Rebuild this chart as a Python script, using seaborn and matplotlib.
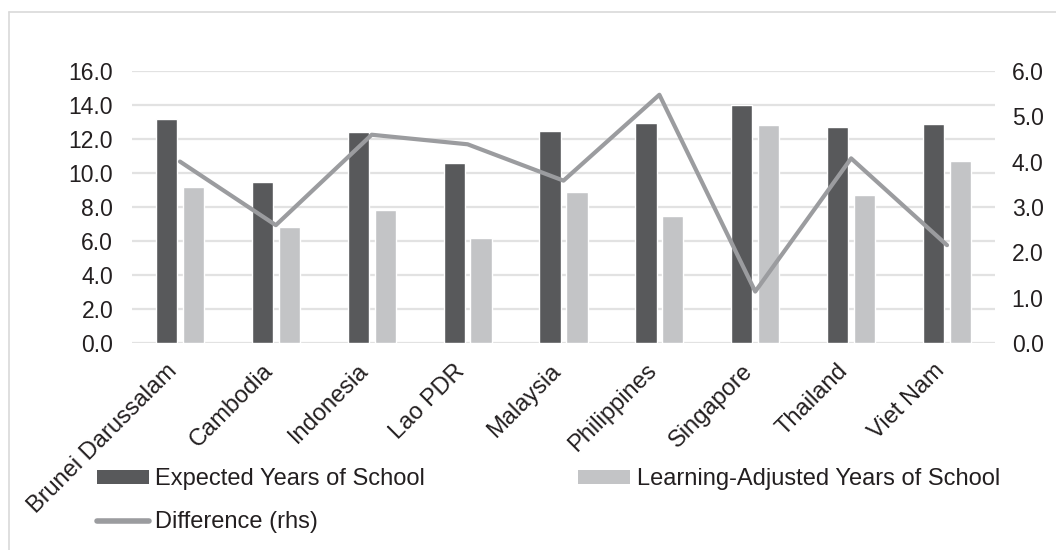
import numpy as np
import pandas as pd
import matplotlib
matplotlib.use("Agg")
import matplotlib.pyplot as plt
import matplotlib.transforms as mtransforms
from matplotlib.lines import Line2D
from matplotlib.patches import Patch
import seaborn as sns

countries = ["Brunei Darussalam", "Cambodia", "Indonesia", "Lao PDR", "Malaysia",
             "Philippines", "Singapore", "Thailand", "Viet Nam"]
expected = [13.16, 9.48, 12.40, 10.58, 12.48, 12.95, 13.97, 12.71, 12.87]
learning_adj = [9.19, 6.83, 7.84, 6.20, 8.88, 7.47, 12.79, 8.72, 10.68]
difference = [4.00, 2.60, 4.59, 4.38, 3.58, 5.47, 1.14, 4.07, 2.16]

series_names = ["Expected Years of School", "Learning-Adjusted Years of School"]
line_name = "Difference (rhs)"
left_ticks = [0, 2, 4, 6, 8, 10, 12, 14, 16]
right_ticks = [0, 1, 2, 3, 4, 5, 6]

DARK = "#58595B"
LIGHT = "#C3C4C6"
LINEC = "#9B9C9F"
GRID = "#E2E2E2"
TXT = "#231F20"

sns.set_theme(style="white")
plt.rcParams["font.family"] = ["Liberation Sans", "DejaVu Sans"]

df = pd.DataFrame({
    "country": countries * 2,
    "value": expected + learning_adj,
    "series": [series_names[0]] * len(countries) + [series_names[1]] * len(countries),
})

fig = plt.figure(figsize=(10.56, 5.5), dpi=100)
ax = fig.add_axes([0.125, 0.3758, 0.9422 - 0.125, 0.8715 - 0.3758])

sns.barplot(data=df, x="country", y="value", hue="series", order=countries,
            hue_order=series_names, palette=[DARK, LIGHT], width=0.56, gap=0.21,
            saturation=1, ax=ax, legend=False)
ax.set_xlim(-0.5, len(countries) - 0.5)
ax.set_ylim(0, 16)
ax.set_yticks(left_ticks)
ax.set_yticklabels([f"{v:.1f}" for v in left_ticks])
ax.yaxis.grid(True, color=GRID, lw=1.6)
ax.set_axisbelow(True)
for s in ax.spines.values():
    s.set_visible(False)
ax.set_xlabel("")
ax.set_ylabel("")

ax2 = ax.twinx()
sns.lineplot(x=countries, y=difference, ax=ax2, color=LINEC, lw=3.0, sort=False)
ax2.set_ylim(0, 6)
ax2.set_yticks(right_ticks)
ax2.set_yticklabels([f"{v:.1f}" for v in right_ticks])
for s in ax2.spines.values():
    s.set_visible(False)
ax2.set_ylabel("")
ax2.grid(False)

fs_y = 16.5
fs = 17
ax.tick_params(axis="y", length=0, pad=13.5, labelsize=fs_y, labelcolor=TXT)
ax2.tick_params(axis="y", length=0, pad=12, labelsize=fs_y, labelcolor=TXT)
ax.tick_params(axis="x", length=0, pad=4, labelsize=fs, labelcolor=TXT)
shift = mtransforms.ScaledTranslation(-14 / 100, -11 / 100, fig.dpi_scale_trans)
for lbl in ax.get_xticklabels():
    lbl.set_rotation(45)
    lbl.set_ha("right")
    lbl.set_va("top")
    lbl.set_rotation_mode("anchor")
    lbl.set_transform(lbl.get_transform() + shift)

handles = [Patch(facecolor=DARK, edgecolor="none"),
           Line2D([0], [0], color=LINEC, lw=4),
           Patch(facecolor=LIGHT, edgecolor="none")]
labels = [series_names[0], line_name, series_names[1]]
fig.legend(handles, labels, loc="upper left", bbox_to_anchor=(97 / 1056, 1 - 468 / 550),
           ncol=2, frameon=False, fontsize=fs, handlelength=2.2, handleheight=0.55,
           handletextpad=0.26, columnspacing=6.5, labelspacing=0.9, borderpad=0,
           borderaxespad=0, labelcolor=TXT)

fig.add_artist(Line2D([9 / 1056, 9 / 1056], [0, 1 - 12 / 550], color="#D9D9D9", lw=1.2,
                      transform=fig.transFigure))
fig.add_artist(Line2D([9 / 1056, 1], [1 - 12 / 550, 1 - 12 / 550], color="#D9D9D9", lw=1.2,
                      transform=fig.transFigure))

fig.savefig("out.png", dpi=100)
